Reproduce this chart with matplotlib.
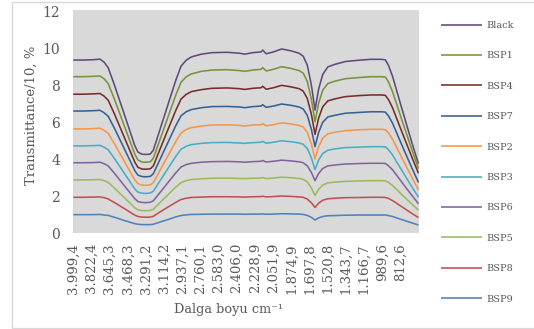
import matplotlib
matplotlib.use("Agg")
import matplotlib.pyplot as plt
from matplotlib.patches import Rectangle

# ---- data ----
wavenumber = [3999.4, 3900, 3800, 3740, 3700, 3660, 3600, 3500, 3400, 3370, 3330, 3290, 3250,
              3220, 3150, 3080, 3000, 2950, 2900, 2850, 2750, 2650,
              2500, 2380, 2330, 2250, 2170, 2155, 2120, 2050, 1970, 1880, 1800,
              1760, 1720, 1680, 1645,
              1610, 1570, 1520, 1450, 1350, 1200, 1100,
              1000, 960, 930, 890, 800, 700, 637]

black = [9.38, 9.38, 9.40, 9.43, 9.27, 8.97, 8.05, 6.40, 4.74, 4.40, 4.28, 4.27, 4.29,
         4.50, 5.71, 6.92, 8.30, 9.05, 9.37, 9.55, 9.70, 9.78,
         9.80, 9.75, 9.70, 9.78, 9.82, 9.92, 9.72, 9.82, 9.98, 9.88, 9.75,
         9.59, 9.10, 8.01, 6.67,
         7.80, 8.60, 9.01, 9.15, 9.30, 9.38, 9.42,
         9.42, 9.39, 9.10, 8.50, 6.77, 4.88, 3.75]
bsp1 = [8.48, 8.48, 8.50, 8.52, 8.37, 8.11, 7.28, 5.78, 4.28, 3.97, 3.86, 3.85, 3.87,
        4.06, 5.15, 6.25, 7.50, 8.18, 8.47, 8.63, 8.77, 8.84,
        8.86, 8.81, 8.77, 8.84, 8.88, 8.97, 8.79, 8.88, 9.02, 8.93, 8.81,
        8.67, 8.22, 7.24, 6.04,
        7.04, 7.75, 8.11, 8.24, 8.37, 8.44, 8.48,
        8.48, 8.46, 8.20, 7.67, 6.15, 4.50, 3.50]
bsp4 = [7.53, 7.53, 7.55, 7.57, 7.43, 7.21, 6.48, 5.16, 3.85, 3.57, 3.48, 3.47, 3.49,
        3.65, 4.62, 5.58, 6.67, 7.27, 7.52, 7.67, 7.78, 7.85,
        7.87, 7.83, 7.79, 7.85, 7.88, 7.96, 7.80, 7.88, 8.01, 7.93, 7.83,
        7.70, 7.30, 6.43, 5.36,
        6.23, 6.85, 7.17, 7.28, 7.40, 7.46, 7.49,
        7.49, 7.47, 7.24, 6.80, 5.51, 4.10, 3.25]
bsp7 = [6.62, 6.62, 6.64, 6.66, 6.53, 6.34, 5.70, 4.55, 3.39, 3.15, 3.07, 3.06, 3.08,
        3.22, 4.06, 4.89, 5.84, 6.36, 6.58, 6.70, 6.80, 6.86,
        6.87, 6.84, 6.80, 6.86, 6.89, 6.96, 6.82, 6.89, 7.00, 6.93, 6.84,
        6.73, 6.38, 5.62, 4.69,
        5.46, 6.01, 6.30, 6.39, 6.50, 6.55, 6.58,
        6.58, 6.56, 6.36, 5.96, 4.79, 3.52, 2.75]
bsp2 = [5.65, 5.65, 5.67, 5.69, 5.57, 5.41, 4.86, 3.87, 2.89, 2.69, 2.61, 2.60, 2.62,
        2.74, 3.46, 4.17, 4.98, 5.43, 5.62, 5.72, 5.81, 5.86,
        5.87, 5.84, 5.81, 5.86, 5.88, 5.94, 5.82, 5.88, 5.98, 5.92, 5.84,
        5.75, 5.46, 4.82, 4.03,
        4.69, 5.15, 5.39, 5.47, 5.56, 5.61, 5.63,
        5.63, 5.61, 5.44, 5.09, 4.10, 3.01, 2.35]
bsp3 = [4.73, 4.73, 4.75, 4.76, 4.66, 4.53, 4.06, 3.23, 2.40, 2.23, 2.17, 2.16, 2.18,
        2.28, 2.88, 3.49, 4.17, 4.55, 4.71, 4.80, 4.87, 4.91,
        4.92, 4.89, 4.87, 4.91, 4.93, 4.98, 4.88, 4.93, 5.01, 4.96, 4.89,
        4.82, 4.59, 4.08, 3.45,
        3.96, 4.32, 4.50, 4.57, 4.64, 4.67, 4.69,
        4.69, 4.68, 4.53, 4.24, 3.41, 2.50, 1.95]
bsp6 = [3.82, 3.82, 3.83, 3.85, 3.77, 3.65, 3.26, 2.56, 1.87, 1.72, 1.67, 1.66, 1.68,
        1.76, 2.24, 2.73, 3.28, 3.59, 3.72, 3.79, 3.85, 3.88,
        3.89, 3.87, 3.85, 3.88, 3.90, 3.94, 3.86, 3.90, 3.96, 3.92, 3.87,
        3.82, 3.65, 3.29, 2.85,
        3.24, 3.51, 3.65, 3.70, 3.75, 3.78, 3.79,
        3.79, 3.78, 3.66, 3.44, 2.77, 2.04, 1.60]
bsp5 = [2.89, 2.89, 2.90, 2.91, 2.85, 2.76, 2.46, 1.92, 1.38, 1.27, 1.23, 1.22, 1.24,
        1.30, 1.69, 2.07, 2.51, 2.74, 2.85, 2.91, 2.95, 2.98,
        2.99, 2.97, 2.96, 2.98, 2.99, 3.02, 2.96, 2.99, 3.04, 3.01, 2.97,
        2.92, 2.78, 2.45, 2.05,
        2.38, 2.61, 2.73, 2.77, 2.81, 2.84, 2.85,
        2.85, 2.84, 2.76, 2.59, 2.10, 1.57, 1.25]
bsp8 = [1.95, 1.95, 1.96, 1.97, 1.93, 1.86, 1.67, 1.33, 0.98, 0.91, 0.88, 0.87, 0.88,
        0.92, 1.17, 1.41, 1.68, 1.83, 1.90, 1.94, 1.96, 1.98,
        1.98, 1.97, 1.96, 1.98, 1.99, 2.01, 1.97, 1.99, 2.02, 2.00, 1.97,
        1.95, 1.85, 1.65, 1.40,
        1.63, 1.79, 1.87, 1.90, 1.93, 1.94, 1.95,
        1.95, 1.94, 1.89, 1.77, 1.44, 1.07, 0.85]
bsp9 = [1.01, 1.01, 1.01, 1.02, 0.99, 0.97, 0.87, 0.69, 0.52, 0.49, 0.47, 0.47, 0.47,
        0.49, 0.62, 0.74, 0.89, 0.96, 1.00, 1.02, 1.03, 1.04,
        1.04, 1.04, 1.03, 1.04, 1.04, 1.05, 1.03, 1.04, 1.06, 1.05, 1.04,
        1.02, 0.97, 0.86, 0.72,
        0.83, 0.91, 0.95, 0.96, 0.98, 0.99, 0.99,
        0.99, 0.99, 0.96, 0.91, 0.74, 0.56, 0.45]

series_names = ["Black", "BSP1", "BSP4", "BSP7", "BSP2", "BSP3", "BSP6", "BSP5", "BSP8", "BSP9"]
series_values = [black, bsp1, bsp4, bsp7, bsp2, bsp3, bsp6, bsp5, bsp8, bsp9]
series_colors = ["#604A7B", "#77933C", "#772C2A", "#376092", "#F79646",
                 "#4BACC6", "#8064A2", "#9BBB59", "#C0504D", "#4F81BD"]

xtick_values = [3999.4, 3822.4, 3645.3, 3468.3, 3291.2, 3114.2, 2937.1, 2760.1, 2583.0,
                2406.0, 2228.9, 2051.9, 1874.9, 1697.8, 1520.8, 1343.7, 1166.7, 989.6, 812.6]
xtick_labels = ["3.999,4", "3.822,4", "3.645,3", "3.468,3", "3.291,2", "3.114,2", "2.937,1",
                "2.760,1", "2.583,0", "2.406,0", "2.228,9", "2.051,9", "1.874,9", "1.697,8",
                "1.520,8", "1.343,7", "1.166,7", "989,6", "812,6"]
ytick_values = [0, 2, 4, 6, 8, 10, 12]

# ---- figure ----
W, H = 534, 329
fig = plt.figure(figsize=(W / 100, H / 100), dpi=100)
fig.patch.set_facecolor("white")

# outer chart border
fig.patches.append(Rectangle((11.5 / W, 1.5 / H), 1.0, (H - 3.0) / H, transform=fig.transFigure,
                             fill=False, edgecolor="#D9D9D9", linewidth=1.0))

ax_l, ax_r, ax_t, ax_b = 73.3, 418.5, 10.0, 233.3
ax = fig.add_axes([ax_l / W, (H - ax_b) / H, (ax_r - ax_l) / W, (ax_b - ax_t) / H])
ax.set_facecolor("#D9D9D9")
for s in ax.spines.values():
    s.set_visible(False)

for name, vals, col in zip(series_names, series_values, series_colors):
    ax.plot(wavenumber, vals, color=col, lw=1.15, label=name,
            solid_joinstyle="round", solid_capstyle="butt")

ax.set_xlim(3999.4, 637)
ax.set_ylim(0, 12.09)

serif = ["DejaVu Serif"]
tc = "#595959"
ax.set_xticks(xtick_values)
ax.set_xticklabels(xtick_labels, rotation=90, fontsize=9.5, color=tc, family=serif)
ax.set_yticks(ytick_values)
ax.set_yticklabels([str(v) for v in ytick_values], fontsize=10, color=tc, family=serif)
ax.tick_params(axis="both", length=0)
ax.tick_params(axis="x", pad=7)
ax.tick_params(axis="y", pad=9.5)

fig.text(31 / W, 1 - 115 / H, "Transmittance/10, %", rotation=90, ha="center", va="center",
         fontsize=9.5, color=tc, family=serif)
fig.text(229 / W, 1 - 309 / H, "Dalga boyu cm\u207b\u00b9", ha="center", va="center",
         fontsize=9.3, color=tc, family=serif)

handles, labels = ax.get_legend_handles_labels()
leg = fig.legend(handles, labels, loc="upper left", bbox_to_anchor=(441 / W, 1 - 21 / H),
                 frameon=False, handlelength=4.2, handletextpad=0.5,
                 labelspacing=2.2, borderpad=0, borderaxespad=0,
                 prop={"family": serif, "size": 7})
for t in leg.get_texts():
    t.set_color(tc)

fig.savefig("out.png", dpi=100)
